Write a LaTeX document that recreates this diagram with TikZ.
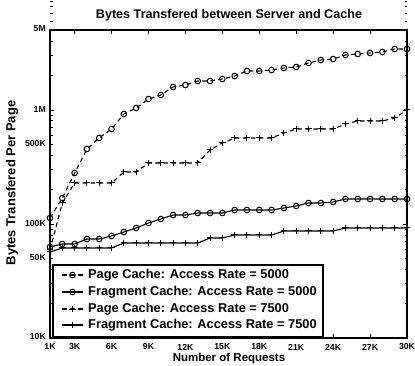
\documentclass[tikz,border=0pt]{standalone}
\usepackage{fontspec}
\setmainfont{Liberation Sans}
\begin{document}
\begin{tikzpicture}[x=1pt,y=-1pt,
  frame/.style={line width=1.6pt},
  pline/.style={line width=1.1pt,dash pattern=on 4.5pt off 3.5pt},
  fline/.style={line width=1.1pt},
  cmark/.style={line width=1pt},
  pmark/.style={line width=1pt},
  ticklab/.style={font=\fontsize{8.7}{9}\selectfont\bfseries,inner sep=0pt},
  leglab/.style={font=\fontsize{12.8}{14}\selectfont\bfseries,anchor=west,inner sep=0pt},
  axlab/.style={font=\fontsize{11.5}{13}\selectfont\bfseries,inner sep=0pt}]
\useasboundingbox (0,0) rectangle (415,366);
\def\xL{50}\def\xR{407}\def\yT{30}\def\yB{338}
% data (pixel y)
\def\PA{218,198,173,149,138,129,114,108,99,95,87,85,81,81,79,76,71,71,70,68,67,63,60,59,55,54,53,52,49,49}
\def\FA{247,244,244,239,239,236,232,228,223,219,215,215,213,213,213,210,210,210,210,208,206,203,203,202,199,199,199,199,199,199}
\def\PB{250,203,183,183,183,183,172,172,163,163,163,163,163,150,143,138,138,138,138,133,129,129,129,129,124,121,121,121,118,110}
\def\FB{252,248,248,248,248,248,243,243,243,243,243,243,243,238,238,235,235,235,235,231,231,231,231,231,228,228,228,228,228,228}
\foreach \v [count=\i] in \PA {\coordinate (pa\i) at ({50+(\i-1)*12.3103},\v);}
\foreach \v [count=\i] in \FA {\coordinate (fa\i) at ({50+(\i-1)*12.3103},\v);}
\foreach \v [count=\i] in \PB {\coordinate (pb\i) at ({50+(\i-1)*12.3103},\v);}
\foreach \v [count=\i] in \FB {\coordinate (fb\i) at ({50+(\i-1)*12.3103},\v);}
% series lines
\draw[pline] (pa1) \foreach \i in {2,...,30}{ -- (pa\i)};
\draw[fline] (fa1) \foreach \i in {2,...,30}{ -- (fa\i)};
\draw[pline] (pb1) \foreach \i in {2,...,30}{ -- (pb\i)};
\draw[fline] (fb1) \foreach \i in {2,...,30}{ -- (fb\i)};
% markers
\foreach \i in {1,...,30}{
  \draw[cmark] (pa\i) circle[radius=2.8];
  \draw[cmark] (fa\i) circle[radius=2.8];
  \draw[pmark] (pb\i) +(-3.2,0) -- +(3.2,0) (pb\i) +(0,-3.2) -- +(0,3.2);
  \draw[pmark] (fb\i) +(-3.2,0) -- +(3.2,0) (fb\i) +(0,-3.2) -- +(0,3.2);
}
% axes frame
\coordinate (bl) at (\xL,\yB); \coordinate (tr) at (\xR,\yT);
\draw[frame] (bl) rectangle (tr);
% x ticks
\foreach \k in {3,6,...,27}{
  \draw[line width=0.9pt] ({50+(\k-1)*12.3103},\yB) -- ++(0,-4);
  \draw[line width=0.9pt] ({50+(\k-1)*12.3103},\yT) -- ++(0,4);
}
\foreach \k in {1,3,6,9,12,15,18,21,24,27,30}{
  \node[ticklab] (xl\k) at ({50+(\k-1)*12.3103},347) {\k K};
}
% y ticks (log)
\foreach \d in {0,1,2}{
  \foreach \m in {2,...,9}{
    \pgfmathsetmacro\yy{338-114.1*(\d+ln(\m)/ln(10))}
    \draw[line width=0.8pt] (\xL,\yy) -- ++(2.5,0);
    \draw[line width=0.8pt] (\xR,\yy) -- ++(-2.5,0);
  }
}
\foreach \yy in {224,110}{
  \draw[line width=0.9pt] (\xL,\yy) -- ++(4,0);
  \draw[line width=0.9pt] (\xR,\yy) -- ++(-4,0);
}
\node[ticklab,anchor=east] (y5M) at (46,29) {5M};
\node[ticklab,anchor=east] (y1M) at (46,110) {1M};
\node[ticklab,anchor=east] (y500K) at (46,144) {500K};
\node[ticklab,anchor=east] (y100K) at (46,224) {100K};
\node[ticklab,anchor=east] (y50K) at (46,258) {50K};
\node[ticklab,anchor=east] (y10K) at (46,337) {10K};
% labels
\node[font=\fontsize{12.6}{14}\selectfont\bfseries,inner sep=0pt] (title) at (229,15) {Bytes Transfered between Server and Cache};
\node[axlab] (xlab) at (229,359) {Number of Requests};
\node[axlab,rotate=90,font=\fontsize{13}{14}\selectfont\bfseries] (ylab) at (12,183) {Bytes Transfered Per Page};
% legend
\draw[line width=1.1pt,fill=white] (53,265) rectangle (323,337);
\foreach \yy [count=\j] in {275,292,309,325}{
  \coordinate (la\j) at (62,\yy); \coordinate (lb\j) at (83,\yy); \coordinate (lm\j) at (72.5,\yy);
}
\draw[pline] (la1) -- (lb1); \draw[cmark] (lm1) circle[radius=2.8];
\draw[fline] (la2) -- (lb2); \draw[cmark] (lm2) circle[radius=2.8];
\draw[pline] (la3) -- (lb3); \draw[pmark] (lm3) +(-3.2,0) -- +(3.2,0) (lm3) +(0,-3.2) -- +(0,3.2);
\draw[fline] (la4) -- (lb4); \draw[pmark] (lm4) +(-3.2,0) -- +(3.2,0) (lm4) +(0,-3.2) -- +(0,3.2);
\node[leglab] (t1) at (88,275) {Page Cache: Access Rate = 5000};
\node[leglab] (t2) at (88,292) {Fragment Cache: Access Rate = 5000};
\node[leglab] (t3) at (88,309) {Page Cache: Access Rate = 7500};
\node[leglab] (t4) at (88,325) {Fragment Cache: Access Rate = 7500};
\end{tikzpicture}
\end{document}
